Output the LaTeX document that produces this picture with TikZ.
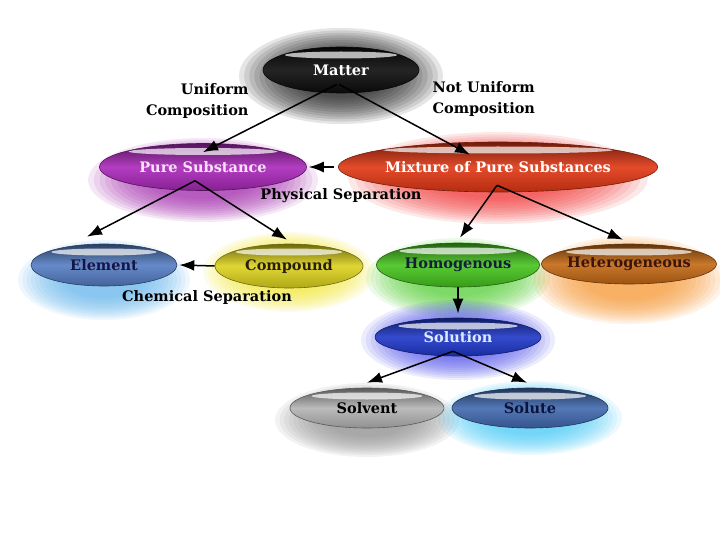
\documentclass[tikz,border=0pt]{standalone}
\usepackage{fontspec}
\setmainfont{DejaVu Serif}
\usepackage{xcolor}
\usetikzlibrary{shapes.geometric,arrows.meta,calc,backgrounds}

\definecolor{cmatter}{RGB}{12,12,12}
\definecolor{cpure}{RGB}{170,40,185}
\definecolor{cmix}{RGB}{225,55,20}
\definecolor{celem}{RGB}{85,125,195}
\definecolor{ccomp}{RGB}{220,210,30}
\definecolor{chom}{RGB}{70,195,30}
\definecolor{chet}{RGB}{195,105,20}
\definecolor{csoln}{RGB}{30,55,200}
\definecolor{csolv}{RGB}{180,180,180}
\definecolor{csolut}{RGB}{65,105,175}

\definecolor{gmatter}{RGB}{20,20,20}
\definecolor{gpure}{RGB}{160,40,170}
\definecolor{gmix}{RGB}{240,50,50}
\definecolor{gelem}{RGB}{100,180,235}
\definecolor{gcomp}{RGB}{240,230,50}
\definecolor{ghom}{RGB}{85,205,55}
\definecolor{ghet}{RGB}{245,150,50}
\definecolor{gsoln}{RGB}{80,80,235}
\definecolor{gsolv}{RGB}{140,140,140}
\definecolor{gsolut}{RGB}{70,200,245}

\begin{document}
\begin{tikzpicture}[x=1pt,y=-1pt]
      \useasboundingbox (0,0) rectangle (720,540);
      \tikzset{V/.style = {shape=ellipse, draw=#1!50!black, line width=.6pt, inner sep=0pt,
        top color=#1!50!black, bottom color=#1!80!black, middle color=#1!90!white,
        font=\bfseries\fontsize{14.5}{16}\selectfont,
        path picture={\fill[white,opacity=.7] let \p1=(path picture bounding box.north west),
          \p2=(path picture bounding box.south east) in
          ({(\x1+\x2)/2},{\y1-8pt}) ellipse [x radius={.36*(\x2-\x1)}, y radius=3.5pt];}}}
      \tikzset{E/.style = {draw, line width=1.5pt, -{Latex[length=15pt,width=11pt]}}}
      \tikzset{L/.style = {text=black, font=\bfseries\fontsize{14.5}{21}\selectfont}}
      \node[V=cmatter, text=white, minimum width=156, minimum height=46](matter) at (341,70) {Matter};
      \node[V=cpure, text={rgb,255:red,250;green,225;blue,250}, minimum width=207, minimum height=47](pure) at (203,167) {Pure Substance};
      \node[V=cmix, text=white, minimum width=272, minimum height=50](mix) at (498,167) {Mixture of Pure Substances};
      \node[V=celem, text={rgb,255:red,20;green,20;blue,70}, minimum width=146, minimum height=42](elem) at (104,265) {Element};
      \node[V=ccomp, text={rgb,255:red,40;green,30;blue,10}, minimum width=148, minimum height=44](comp) at (289,266) {Compound};
      \node[V=chom, text={rgb,255:red,20;green,30;blue,60}, minimum width=163, minimum height=44](hom) at (458,265) {Homogenous};
      \node[V=chet, text={rgb,255:red,60;green,20;blue,10}, minimum width=167, minimum height=40](het) at (629,264) {Heterogeneous};
      \node[V=csoln, text={rgb,255:red,220;green,235;blue,255}, minimum width=166, minimum height=38](soln) at (458,337) {Solution};
      \node[V=csolv, text=black, minimum width=154, minimum height=40](solv) at (367,408) {Solvent};
      \node[V=csolut, text={rgb,255:red,10;green,20;blue,60}, minimum width=156, minimum height=40](solut) at (530,408) {Solute};
      \node[L, align=right, anchor=east](unif) at (252,101) {Uniform\\Composition};
      \node[L, align=left, anchor=west](notunif) at (429,99) {Not Uniform\\Composition};
      \node[L](phys) at (341,196) {Physical Separation};
      \node[L](chem) at (207,297) {Chemical Separation};
      % soft glow behind each ellipse
      \begin{scope}[on background layer]
        \foreach \n/\c/\dy/\rx/\ry in {matter/gmatter/6/102/48, pure/gpure/13/115/42,
            mix/gmix/11/150/46, elem/gelem/15/86/40, comp/gcomp/6/86/40, hom/ghom/13/92/40,
            het/ghet/16/96/44, soln/gsoln/3/97/40, solv/gsolv/12/92/37, solut/gsolut/10/92/37}
          \foreach \s in {1,.95,...,.4}
            \fill[\c, opacity=.11] ($(\n)+(0,\dy)$) ellipse ({\s*\rx} and {\s*\ry});
      \end{scope}
      \draw[E]($(matter.south)+(-4,-9)$) to ($(pure.north)+(0,9)$);
      \draw[E]($(matter.south)+(-2,-9)$) to ($(mix.north)+(-28,13)$);
      \draw[E]($(mix.west)+(-4,0)$) to ($(pure.east)+(2,0)$);
      \draw[E]($(pure.south)+(-8,-10)$) to ($(elem.north)+(-17,-7)$);
      \draw[E]($(pure.south)+(-8,-10)$) to ($(comp.north)+(-2,-4)$);
      \draw[E]($(mix.south)+(-1,-7)$) to ($(hom.north)+(2,-5)$);
      \draw[E]($(mix.south)+(-1,-7)$) to ($(het.north)+(-6,-4)$);
      \draw[E](comp.west) to ($(elem.east)+(2,0)$);
      \draw[E](hom.south) to ($(soln.north)+(0,-4)$);
      \draw[E]($(soln.south)+(-5,-5)$) to ($(solv.north)+(0,-5)$);
      \draw[E]($(soln.south)+(-5,-5)$) to ($(solut.north)+(-3,-5)$);
\end{tikzpicture}
\end{document}
